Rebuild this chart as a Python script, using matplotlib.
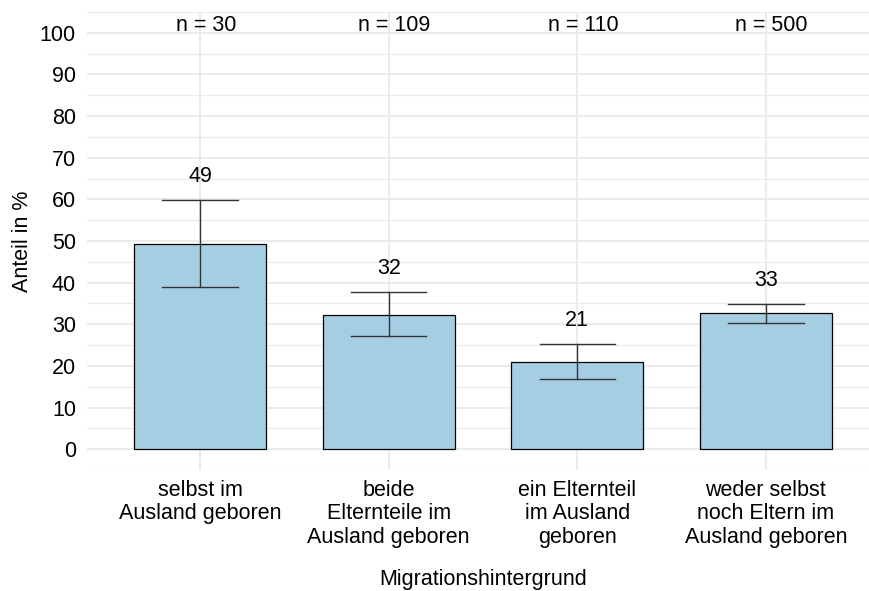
import matplotlib
matplotlib.use("Agg")
import matplotlib.pyplot as plt
from matplotlib.ticker import MultipleLocator

plt.rcParams['font.family'] = ['Liberation Sans', 'DejaVu Sans']

categories = ["selbst im\nAusland geboren",
              "beide\nElternteile im\nAusland geboren",
              "ein Elternteil\nim Ausland\ngeboren",
              "weder selbst\nnoch Eltern im\nAusland geboren"]
values = [49.3, 32.3, 21.0, 32.6]
lower = [38.9, 27.3, 16.9, 30.4]
upper = [59.9, 37.8, 25.3, 34.9]
value_labels = ["49", "32", "21", "33"]
n_labels = ["n = 30", "n = 109", "n = 110", "n = 500"]

FS = 15.5
W, H = 869, 591
fig = plt.figure(figsize=(W / 100, H / 100), dpi=100)
ax = fig.add_axes([87 / W, 121 / H, 792 / W, 458 / H])

x = list(range(1, len(categories) + 1))
grid_col = "#ebebeb"

ax.set_xlim(0.4, 4.6)
ax.set_ylim(-5, 105)
ax.yaxis.set_major_locator(MultipleLocator(10))
ax.yaxis.set_minor_locator(MultipleLocator(5))
ax.set_xticks(x)
ax.set_xticklabels(categories, fontsize=FS, color="black", linespacing=1.17)
ax.set_yticks(range(0, 101, 10))
ax.set_yticklabels([str(v) for v in range(0, 101, 10)], fontsize=FS, color="black")
ax.grid(which="major", color=grid_col, linewidth=1.4, zorder=0)
ax.grid(which="minor", axis="y", color=grid_col, linewidth=0.8, zorder=0)
ax.set_axisbelow(True)
for s in ax.spines.values():
    s.set_visible(False)
ax.tick_params(which="both", length=0)
ax.tick_params(axis="y", pad=8)
ax.tick_params(axis="x", pad=7)

ax.bar(x, values, width=0.7, color="#a6cee3", edgecolor="black", linewidth=0.9, zorder=2)
for xi, lo, hi in zip(x, lower, upper):
    ax.plot([xi, xi], [lo, hi], color="#333333", linewidth=1.0, zorder=3)
    ax.plot([xi - 0.2, xi + 0.2], [lo, lo], color="#333333", linewidth=1.0, zorder=3)
    ax.plot([xi - 0.2, xi + 0.2], [hi, hi], color="#333333", linewidth=1.0, zorder=3)

for xi, hi, lab in zip(x, upper, value_labels):
    ax.text(xi, hi + 5.5, lab, ha="center", va="center", fontsize=FS, color="black", zorder=4)

for xi, lab in zip(x, n_labels):
    ax.text(xi + 0.03, 101.7, lab, ha="center", va="center", fontsize=FS, color="black", zorder=4)

ax.set_xlabel("Migrationshintergrund", fontsize=FS, labelpad=15)
ax.set_ylabel("Anteil in %", fontsize=FS, labelpad=5)

fig.savefig("out.png", dpi=100, facecolor="white")
